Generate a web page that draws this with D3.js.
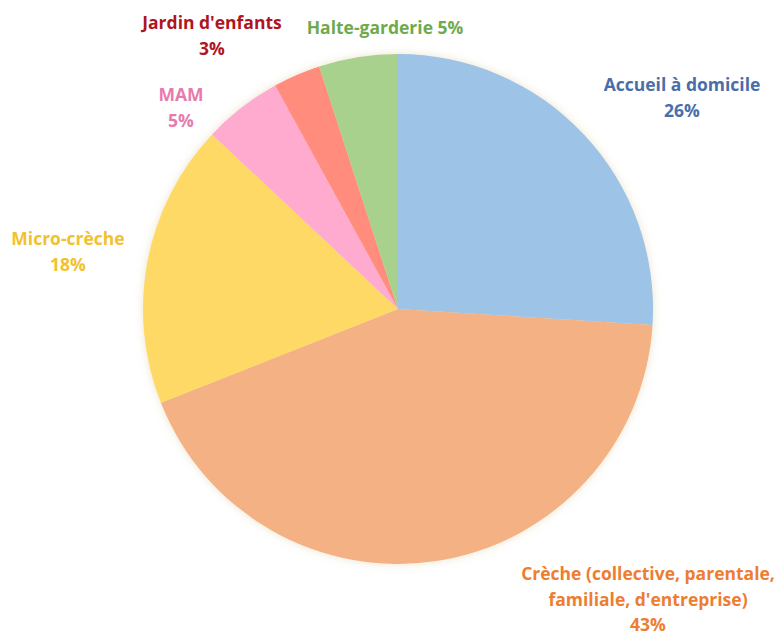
<!DOCTYPE html>
<html>
<head>
<meta charset="utf-8">
<script src="https://cdn.jsdelivr.net/npm/d3@7"></script>
<style>
  html, body { margin: 0; padding: 0; background: #fff; }
  svg { display: block; }
  text { font-family: "Open Sans", Lato, sans-serif; font-weight: bold; font-size: 17.5px; }
</style>
</head>
<body>
<svg id="chart" width="783" height="637"></svg>
<script>
// Mode d'accueil des enfants — répartition en %
const categories = [
  "Accueil à domicile",
  "Crèche (collective, parentale, familiale, d'entreprise)",
  "Micro-crèche",
  "MAM",
  "Jardin d'enfants",
  "Halte-garderie"
];
const values = [26, 43, 18, 5, 3, 5];
const sliceColors = ["#9DC3E6", "#F4B183", "#FFD966", "#FFAACF", "#FF8C7C", "#A9D18E"];
const labelColors = ["#4A6EA9", "#ED7D31", "#F2C12E", "#E77BAE", "#B0141E", "#6FAA4C"];
// label lines (text per line) for each category
const labelLines = [
  ["Accueil à domicile", "26%"],
  ["Crèche (collective, parentale,", "familiale, d'entreprise)", "43%"],
  ["Micro-crèche", "18%"],
  ["MAM", "5%"],
  ["Jardin d'enfants", "3%"],
  ["Halte-garderie 5%"]
];
// label anchor points (centre of first line)
const labelPos = [[682, 86], [648, 575], [68, 240], [181, 96], [212, 24], [385, 29]];

const svg = d3.select("#chart");
const cx = 398, cy = 309, radius = 255;

const defs = svg.append("defs");
const f = defs.append("filter").attr("id", "soft").attr("x", "-10%").attr("y", "-10%").attr("width", "120%").attr("height", "120%");
f.append("feGaussianBlur").attr("in", "SourceAlpha").attr("stdDeviation", 4).attr("result", "b");
f.append("feFlood").attr("flood-color", "#c8b070").attr("flood-opacity", 0.35).attr("result", "c");
f.append("feComposite").attr("in", "c").attr("in2", "b").attr("operator", "in").attr("result", "s");
const m = f.append("feMerge");
m.append("feMergeNode").attr("in", "s");
m.append("feMergeNode").attr("in", "SourceGraphic");

const data = categories.map((c, i) => ({ name: c, value: values[i], i }));
const pie = d3.pie().value(d => d.value).sort(null);
const arc = d3.arc().innerRadius(0).outerRadius(radius);

const g = svg.append("g").attr("transform", `translate(${cx},${cy})`).attr("filter", "url(#soft)");
g.selectAll("path").data(pie(data)).join("path")
  .attr("d", arc)
  .attr("fill", d => sliceColors[d.data.i]);

const lab = svg.append("g");
data.forEach((d, i) => {
  const t = lab.append("text")
    .attr("x", labelPos[i][0]).attr("y", labelPos[i][1])
    .attr("text-anchor", "middle")
    .attr("dominant-baseline", "middle")
    .attr("fill", labelColors[i]);
  labelLines[i].forEach((line, k) => {
    t.append("tspan").attr("x", labelPos[i][0]).attr("dy", k === 0 ? 0 : 25.5).text(line);
  });
});
</script>
</body>
</html>
